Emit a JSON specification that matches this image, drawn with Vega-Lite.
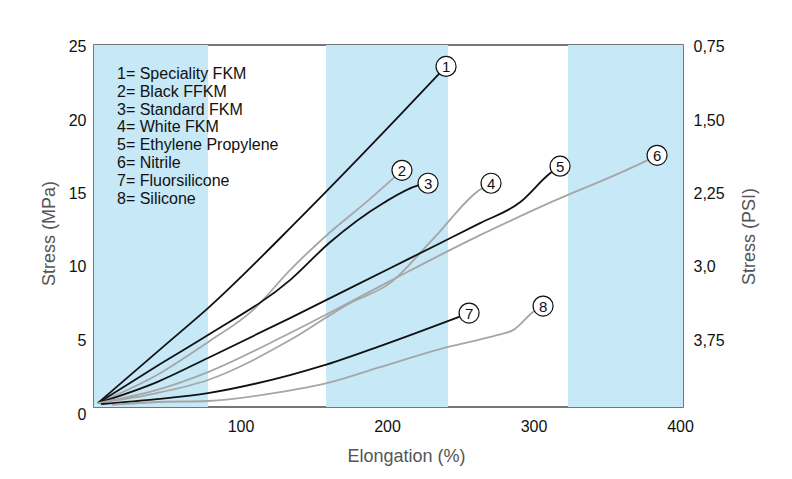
{
  "$schema": "https://vega.github.io/schema/vega-lite/v6.json",
  "autosize": "none",
  "width": 589,
  "height": 362,
  "padding": {"left": 94, "top": 45, "right": 109, "bottom": 72},
  "config": {
    "font": "Liberation Sans",
    "view": {"stroke": "#4a4a4a", "strokeWidth": 1.5},
    "axis": {"grid": false, "ticks": false, "domain": false, "labelFontSize": 16, "labelColor": "#111", "titleFontSize": 18, "titleFontWeight": "normal", "titleColor": "#555"}
  },
  "datasets": {
    "bands": [{"a": 0, "b": 77.8}, {"a": 158.4, "b": 241.6}, {"a": 323.5, "b": 402}],
    "curves": [
      {"m": "1= Speciality FKM", "n": "1", "e": 2.7, "s": 0.72},
      {"m": "1= Speciality FKM", "n": "1", "e": 48.5, "s": 4.67},
      {"m": "1= Speciality FKM", "n": "1", "e": 77.8, "s": 7.19},
      {"m": "1= Speciality FKM", "n": "1", "e": 140.6, "s": 13.32},
      {"m": "1= Speciality FKM", "n": "1", "e": 207.5, "s": 20.2},
      {"m": "1= Speciality FKM", "n": "1", "e": 240.3, "s": 23.66},
      {"m": "2= Black FFKM", "n": "2", "e": 2.7, "s": 0.72},
      {"m": "2= Black FFKM", "n": "2", "e": 43.0, "s": 2.63},
      {"m": "2= Black FFKM", "n": "2", "e": 77.8, "s": 4.87},
      {"m": "2= Black FFKM", "n": "2", "e": 108.5, "s": 7.05},
      {"m": "2= Black FFKM", "n": "2", "e": 133.8, "s": 9.78},
      {"m": "2= Black FFKM", "n": "2", "e": 161.1, "s": 12.36},
      {"m": "2= Black FFKM", "n": "2", "e": 185.0, "s": 14.34},
      {"m": "2= Black FFKM", "n": "2", "e": 210.2, "s": 16.58},
      {"m": "3= Standard FKM", "n": "3", "e": 2.7, "s": 0.72},
      {"m": "3= Standard FKM", "n": "3", "e": 43.0, "s": 3.24},
      {"m": "3= Standard FKM", "n": "3", "e": 77.8, "s": 5.35},
      {"m": "3= Standard FKM", "n": "3", "e": 133.8, "s": 9.10},
      {"m": "3= Standard FKM", "n": "3", "e": 161.1, "s": 11.68},
      {"m": "3= Standard FKM", "n": "3", "e": 197.3, "s": 14.34},
      {"m": "3= Standard FKM", "n": "3", "e": 221.2, "s": 15.56},
      {"m": "3= Standard FKM", "n": "3", "e": 228.0, "s": 15.70},
      {"m": "4= White FKM", "n": "4", "e": 2.7, "s": 0.72},
      {"m": "4= White FKM", "n": "4", "e": 43.0, "s": 1.40},
      {"m": "4= White FKM", "n": "4", "e": 77.8, "s": 2.29},
      {"m": "4= White FKM", "n": "4", "e": 133.8, "s": 5.01},
      {"m": "4= White FKM", "n": "4", "e": 174.7, "s": 7.53},
      {"m": "4= White FKM", "n": "4", "e": 202.0, "s": 8.89},
      {"m": "4= White FKM", "n": "4", "e": 230.7, "s": 11.82},
      {"m": "4= White FKM", "n": "4", "e": 264.8, "s": 15.36},
      {"m": "4= White FKM", "n": "4", "e": 271.0, "s": 15.70},
      {"m": "5= Ethylene Propylene", "n": "5", "e": 2.7, "s": 0.72},
      {"m": "5= Ethylene Propylene", "n": "5", "e": 43.0, "s": 2.15},
      {"m": "5= Ethylene Propylene", "n": "5", "e": 77.8, "s": 3.79},
      {"m": "5= Ethylene Propylene", "n": "5", "e": 133.8, "s": 6.51},
      {"m": "5= Ethylene Propylene", "n": "5", "e": 202.0, "s": 9.91},
      {"m": "5= Ethylene Propylene", "n": "5", "e": 236.2, "s": 11.61},
      {"m": "5= Ethylene Propylene", "n": "5", "e": 263.5, "s": 12.98},
      {"m": "5= Ethylene Propylene", "n": "5", "e": 290.8, "s": 14.40},
      {"m": "5= Ethylene Propylene", "n": "5", "e": 311.3, "s": 16.38},
      {"m": "5= Ethylene Propylene", "n": "5", "e": 318.1, "s": 16.86},
      {"m": "6= Nitrile", "n": "6", "e": 2.7, "s": 0.72},
      {"m": "6= Nitrile", "n": "6", "e": 43.0, "s": 1.61},
      {"m": "6= Nitrile", "n": "6", "e": 77.8, "s": 2.83},
      {"m": "6= Nitrile", "n": "6", "e": 133.8, "s": 5.49},
      {"m": "6= Nitrile", "n": "6", "e": 202.0, "s": 9.03},
      {"m": "6= Nitrile", "n": "6", "e": 236.2, "s": 10.80},
      {"m": "6= Nitrile", "n": "6", "e": 263.5, "s": 12.16},
      {"m": "6= Nitrile", "n": "6", "e": 304.4, "s": 14.07},
      {"m": "6= Nitrile", "n": "6", "e": 377.5, "s": 17.26},
      {"m": "6= Nitrile", "n": "6", "e": 384.3, "s": 17.60},
      {"m": "7= Fluorsilicone", "n": "7", "e": 4.8, "s": 0.65},
      {"m": "7= Fluorsilicone", "n": "7", "e": 43.0, "s": 0.99},
      {"m": "7= Fluorsilicone", "n": "7", "e": 77.8, "s": 1.40},
      {"m": "7= Fluorsilicone", "n": "7", "e": 133.8, "s": 2.63},
      {"m": "7= Fluorsilicone", "n": "7", "e": 159.0, "s": 3.35},
      {"m": "7= Fluorsilicone", "n": "7", "e": 195.2, "s": 4.60},
      {"m": "7= Fluorsilicone", "n": "7", "e": 256.0, "s": 6.85},
      {"m": "8= Silicone", "n": "8", "e": 12.3, "s": 0.59},
      {"m": "8= Silicone", "n": "8", "e": 43.0, "s": 0.79},
      {"m": "8= Silicone", "n": "8", "e": 77.8, "s": 0.86},
      {"m": "8= Silicone", "n": "8", "e": 127.0, "s": 1.47},
      {"m": "8= Silicone", "n": "8", "e": 159.0, "s": 2.08},
      {"m": "8= Silicone", "n": "8", "e": 195.2, "s": 3.17},
      {"m": "8= Silicone", "n": "8", "e": 241.0, "s": 4.53},
      {"m": "8= Silicone", "n": "8", "e": 275.1, "s": 5.35},
      {"m": "8= Silicone", "n": "8", "e": 286.0, "s": 5.69},
      {"m": "8= Silicone", "n": "8", "e": 299.7, "s": 6.92},
      {"m": "8= Silicone", "n": "8", "e": 306.5, "s": 7.33}
    ]
  },
  "resolve": {"axis": {"y": "independent"}},
  "layer": [
    {
      "data": {"name": "bands"},
      "mark": {"type": "rect", "color": "#c6e8f7"},
      "encoding": {
        "x": {"field": "a", "type": "quantitative", "scale": {"domain": [0, 402], "nice": false, "zero": false},
              "axis": {"values": [100, 200, 300, 400], "title": "Elongation (%)", "labelPadding": 11, "titlePadding": 13, "titleX": 312}},
        "x2": {"field": "b"}
      }
    },
    {
      "data": {"name": "curves"},
      "mark": {"type": "line", "strokeWidth": 1.8, "interpolate": "monotone"},
      "encoding": {
        "x": {"field": "e", "type": "quantitative", "scale": {"domain": [0, 402], "nice": false, "zero": false},
              "axis": {"values": [100, 200, 300, 400], "title": "Elongation (%)", "labelPadding": 11, "titlePadding": 13, "titleX": 312}},
        "y": {"field": "s", "type": "quantitative", "scale": {"domain": [0.45, 25.12], "nice": false, "zero": false, "clamp": true},
              "axis": {"orient": "left", "values": [0, 5, 10, 15, 20, 25], "title": "Stress (MPa)", "labelPadding": 8, "titlePadding": 10, "titleY": 188,
                       "labelOffset": {"condition": {"test": "datum.value == 0", "value": 7}, "value": 0}}},
        "color": {"field": "m", "type": "nominal",
          "scale": {"domain": ["1= Speciality FKM", "2= Black FFKM", "3= Standard FKM", "4= White FKM", "5= Ethylene Propylene", "6= Nitrile", "7= Fluorsilicone", "8= Silicone"],
                    "range": ["#111111", "#a6a6a6", "#111111", "#a6a6a6", "#111111", "#a6a6a6", "#111111", "#a6a6a6"]},
          "legend": {"orient": "none", "legendX": 7, "legendY": 21, "title": null, "symbolOpacity": 0, "symbolSize": 0, "symbolStrokeWidth": 0, "labelOffset": 0, "labelFontSize": 16, "labelColor": "#111", "rowPadding": 1.8, "labelLimit": 300, "padding": 0}},
        "order": {"field": "e", "type": "quantitative"}
      }
    },
    {
      "data": {"name": "curves"},
      "transform": [
        {"joinaggregate": [{"op": "max", "field": "e", "as": "me"}], "groupby": ["m"]},
        {"filter": "datum.e == datum.me"}
      ],
      "mark": {"type": "point", "shape": "circle", "filled": true, "fill": "white", "stroke": "#111", "strokeWidth": 1.2, "size": 400, "opacity": 1},
      "encoding": {
        "x": {"field": "e", "type": "quantitative", "scale": {"domain": [0, 402], "nice": false, "zero": false}},
        "y": {"field": "s", "type": "quantitative", "scale": {"domain": [0.45, 25.12], "nice": false, "zero": false, "clamp": true},
              "axis": {"orient": "right", "values": [5, 10, 15, 20, 25], "title": "Stress (PSI)", "titleAngle": 270, "titleBaseline": "bottom", "labelPadding": 10, "titlePadding": 34, "titleY": 191,
                       "labelExpr": "datum.value == 25 ? '0,75' : datum.value == 20 ? '1,50' : datum.value == 15 ? '2,25' : datum.value == 10 ? '3,0' : '3,75'"}}
      }
    },
    {
      "data": {"name": "curves"},
      "transform": [
        {"joinaggregate": [{"op": "max", "field": "e", "as": "me"}], "groupby": ["m"]},
        {"filter": "datum.e == datum.me"}
      ],
      "mark": {"type": "text", "fontSize": 15, "color": "#111", "baseline": "middle", "align": "center", "dy": 1},
      "encoding": {
        "x": {"field": "e", "type": "quantitative", "scale": {"domain": [0, 402], "nice": false, "zero": false}},
        "y": {"field": "s", "type": "quantitative", "scale": {"domain": [0.45, 25.12], "nice": false, "zero": false, "clamp": true}, "axis": null},
        "text": {"field": "n"}
      }
    }
  ]
}
